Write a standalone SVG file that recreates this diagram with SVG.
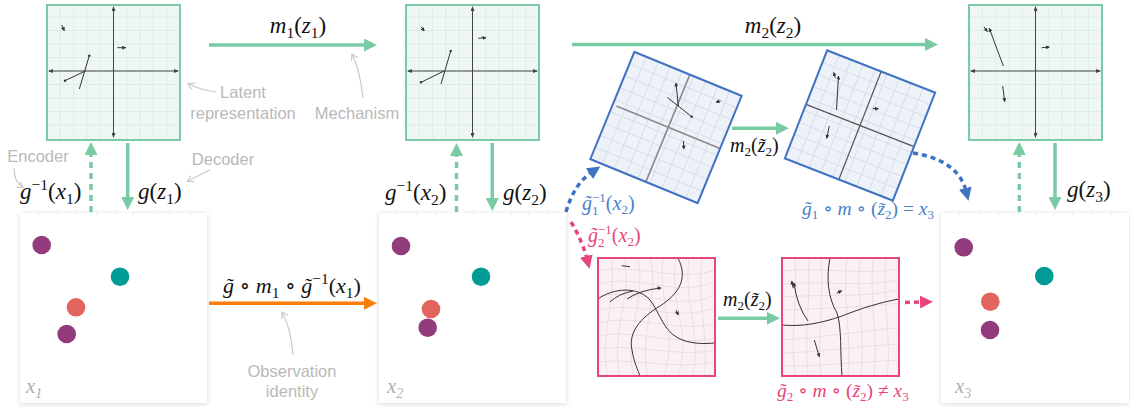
<svg xmlns="http://www.w3.org/2000/svg" xmlns:xlink="http://www.w3.org/1999/xlink" width="1130" height="407" viewBox="0 0 1130 407">
<style>
.m{font-family:"Liberation Serif","DejaVu Serif",serif;font-size:23px;fill:#111}
.i{font-style:italic}
.s{font-size:15.5px}
.ann{font-family:"Liberation Sans","DejaVu Sans",sans-serif;font-size:16.5px;fill:#b9b9b9}
.xl{font-family:"Liberation Serif","DejaVu Serif",serif;font-size:21px;fill:#b0b0b0;font-style:italic}
.gA{stroke:#7acba5;stroke-width:3.5;fill:none}
.gD{stroke:#7acba5;stroke-width:3.5;fill:none;stroke-dasharray:6,5}
.bD{stroke:#3f72c2;stroke-width:3.5;fill:none;stroke-dasharray:5,4}
.pD{stroke:#e8457a;stroke-width:3.5;fill:none;stroke-dasharray:5,4}
.axis{stroke:#444;stroke-width:1;marker-start:url(#ax);marker-end:url(#ax)}
.vec{stroke:#333;stroke-width:1;fill:none}
.va{marker-end:url(#va)}
.gl{stroke:#d8ebe2;stroke-width:0.8;fill:none}
.bl{stroke:#d3dae9;stroke-width:0.8;fill:none}
.pl{stroke:#ead8e0;stroke-width:0.8;fill:none}
.dk{stroke:#333;stroke-width:1;fill:none}
.ga{stroke:#c9c9c9;stroke-width:1.2;fill:none;marker-end:url(#gra)}
.card{fill:#fff;filter:url(#sh)}
.tick{stroke:#e2e2e2;stroke-width:1}
</style>
<defs>
<filter id="sh" x="-10%" y="-10%" width="120%" height="120%">
<feDropShadow dx="0" dy="1" stdDeviation="2.5" flood-color="#000" flood-opacity="0.16"/>
</filter>
<marker id="ahG" markerUnits="userSpaceOnUse" markerWidth="14" markerHeight="13" refX="3" refY="6.5" orient="auto" viewBox="0 0 14 13"><path d="M0,0 L13,6.5 L0,13 z" fill="#7acba5"/></marker>
<marker id="ahO" markerUnits="userSpaceOnUse" markerWidth="14" markerHeight="13" refX="3" refY="6.5" orient="auto" viewBox="0 0 14 13"><path d="M0,0 L13,6.5 L0,13 z" fill="#fb7d0a"/></marker>
<marker id="ahB" markerUnits="userSpaceOnUse" markerWidth="14" markerHeight="13" refX="3" refY="6.5" orient="auto" viewBox="0 0 14 13"><path d="M0,0 L13,6.5 L0,13 z" fill="#3f72c2"/></marker>
<marker id="ahP" markerUnits="userSpaceOnUse" markerWidth="14" markerHeight="13" refX="3" refY="6.5" orient="auto" viewBox="0 0 14 13"><path d="M0,0 L13,6.5 L0,13 z" fill="#e8457a"/></marker>
<marker id="ax" markerUnits="userSpaceOnUse" markerWidth="5" markerHeight="4" refX="4" refY="2" orient="auto-start-reverse" viewBox="0 0 5 4"><path d="M0,0 L5,2 L0,4 z" fill="#444"/></marker>
<marker id="va" markerUnits="userSpaceOnUse" markerWidth="4" markerHeight="4" refX="3.5" refY="2" orient="auto" viewBox="0 0 4 4"><path d="M0,0 L4,2 L0,4 z" fill="#333"/></marker>
<marker id="gra" markerUnits="userSpaceOnUse" markerWidth="8" markerHeight="8" refX="6" refY="3.5" orient="auto" viewBox="0 0 8 7"><path d="M0,0 L6,3.5 L0,7" fill="none" stroke="#c9c9c9" stroke-width="1.2"/></marker>
<g id="ggrid">
<rect width="133" height="135" fill="#eef7f3"/>
<path class="gl" d="M13.3,0V135M26.6,0V135M39.9,0V135M53.2,0V135M66.5,0V135M79.8,0V135M93.1,0V135M106.4,0V135M119.7,0V135M0,12H133M0,25.5H133M0,39H133M0,52.5H133M0,66H133M0,79.5H133M0,93H133M0,106.5H133M0,120H133"/>
<rect width="133" height="135" fill="none" stroke="#7acba5" stroke-width="2"/>
<line class="axis" x1="2" y1="66" x2="131" y2="66"/>
<line class="axis" x1="66.5" y1="2" x2="66.5" y2="132"/>
</g>
<g id="bgrid">
<rect x="-58" y="-58" width="116" height="116" fill="#edf1f8"/>
<path class="bl" d="M-45.1,-58V58M-32.2,-58V58M-19.3,-58V58M-6.4,-58V58M6.4,-58V58M19.3,-58V58M32.2,-58V58M45.1,-58V58M-58,-45.1H58M-58,-32.2H58M-58,-19.3H58M-58,-6.4H58M-58,6.4H58M-58,19.3H58M-58,32.2H58M-58,45.1H58"/>
</g>
</defs>

<rect width="1130" height="407" fill="#fff"/>

<!-- bottom observation panels -->
<g id="obs1">
<rect class="card" x="20" y="213" width="187" height="190"/>
<path class="tick" d="M38,213v2M58,213v2M77,213v2M97,213v2M115,213v2M133,213v2M152,213v2M170,213v2M190,213v2"/>
<circle cx="41.7" cy="245" r="9.3" fill="#923b7d"/>
<circle cx="120" cy="276.7" r="9.3" fill="#009b95"/>
<circle cx="76" cy="307.3" r="9.3" fill="#e2645f"/>
<circle cx="66.7" cy="334" r="9.3" fill="#923b7d"/>
<text class="xl" x="26" y="393">x<tspan font-size="14" dy="5">1</tspan></text>
</g>
<g id="obs2">
<rect class="card" x="379" y="213" width="187" height="190"/>
<path class="tick" d="M397,213v2M417,213v2M436,213v2M456,213v2M474,213v2M492,213v2M511,213v2M529,213v2M549,213v2"/>
<circle cx="401" cy="246" r="9.3" fill="#923b7d"/>
<circle cx="481" cy="276.7" r="9.3" fill="#009b95"/>
<circle cx="431" cy="309" r="9.3" fill="#e2645f"/>
<circle cx="427.7" cy="327.7" r="9.3" fill="#923b7d"/>
<text class="xl" x="387" y="393">x<tspan font-size="14" dy="5">2</tspan></text>
</g>
<g id="obs3">
<rect class="card" x="941" y="213" width="188" height="190"/>
<path class="tick" d="M959,213v2M979,213v2M998,213v2M1018,213v2M1036,213v2M1054,213v2M1073,213v2M1091,213v2M1111,213v2"/>
<circle cx="963.7" cy="247.3" r="9.3" fill="#923b7d"/>
<circle cx="1044.3" cy="276" r="9.3" fill="#009b95"/>
<circle cx="990.3" cy="301.7" r="9.3" fill="#e2645f"/>
<circle cx="990" cy="330" r="9.3" fill="#923b7d"/>
<text class="xl" x="955" y="393">x<tspan font-size="14" dy="5">3</tspan></text>
</g>

<!-- latent panels -->
<g id="latent1" transform="translate(47,5)">
<use href="#ggrid"/>
<line class="vec va" x1="14.7" y1="20" x2="17.3" y2="25.7"/>
<line class="vec va" x1="70.3" y1="42.7" x2="78.7" y2="42.7"/>
<line class="vec" x1="18" y1="75.7" x2="39" y2="65.7"/><circle cx="18" cy="75.7" r="1.2" fill="#333"/>
<line class="vec" x1="32.3" y1="84" x2="42.3" y2="50.7"/><circle cx="42.3" cy="50.7" r="1.2" fill="#333"/>
</g>
<g id="latent2" transform="translate(406,5)">
<use href="#ggrid"/>
<line class="vec va" x1="15" y1="21.7" x2="18.3" y2="26"/>
<line class="vec va" x1="72.3" y1="33.3" x2="80" y2="32.7"/>
<line class="vec" x1="15" y1="77.3" x2="38" y2="66"/><circle cx="15" cy="77.3" r="1.2" fill="#333"/>
<line class="vec" x1="35" y1="79" x2="44.7" y2="46"/><circle cx="44.7" cy="46" r="1.2" fill="#333"/>
</g>
<g id="latent3" transform="translate(969,5)">
<use href="#ggrid"/>
<line class="vec va" x1="34.3" y1="61" x2="20.3" y2="23.3"/>
<line class="vec va" x1="15" y1="21.7" x2="18.3" y2="26.7"/>
<line class="vec va" x1="72.7" y1="42.7" x2="80.3" y2="42"/>
<line class="vec va" x1="33.7" y1="81" x2="35.7" y2="96.7"/>
</g>

<!-- blue rotated panels -->
<g id="blue1">
<g transform="translate(666,127.5) rotate(22.3)">
<use href="#bgrid"/>
<line x1="-54" y1="-1" x2="58" y2="-1" stroke="#8a8a8a" stroke-width="1.6"/>
<line x1="2" y1="-58" x2="2" y2="58" stroke="#8a8a8a" stroke-width="1.6"/>
<rect x="-58" y="-58" width="116" height="116" fill="none" stroke="#3f72c2" stroke-width="2"/>
</g>
<line class="vec va" x1="678.3" y1="106" x2="676" y2="83"/>
<line class="vec" x1="667.5" y1="97.5" x2="691.7" y2="116.7"/><circle cx="691.7" cy="116.7" r="1.2" fill="#333"/>
<line class="vec va" x1="720.7" y1="100.7" x2="716" y2="102.3"/>
<line class="vec va" x1="683.5" y1="141" x2="683.8" y2="149"/>
</g>
<g id="blue2">
<g transform="translate(860,125.5) rotate(21.4)">
<use href="#bgrid"/>
<line x1="-58" y1="0" x2="58" y2="0" stroke="#555" stroke-width="1.2"/>
<line x1="0" y1="-58" x2="0" y2="58" stroke="#555" stroke-width="1.2"/>
<rect x="-58" y="-58" width="116" height="116" fill="none" stroke="#3f72c2" stroke-width="2"/>
</g>
<line class="vec va" x1="836.5" y1="110" x2="838.5" y2="76"/>
<line class="vec va" x1="835.3" y1="78" x2="833.8" y2="72.5"/>
<line class="vec va" x1="872.7" y1="108.3" x2="878.3" y2="109"/>
<line class="vec va" x1="829.3" y1="126" x2="826.7" y2="138.3"/>
</g>

<!-- pink panels -->
<g id="pink1" transform="translate(598,258)">
<rect width="117" height="118" fill="#fbf0f4"/>
<path class="pl" d="M13,0 C20,40 0,80 10,118M26,0 C35,35 12,80 22,118M39,0 C50,30 25,85 36,118M52,0 C62,35 40,80 50,118M65,0 C60,40 80,80 66,118M78,0 C70,45 95,75 80,118M91,0 C85,45 105,80 94,118M104,0 C98,40 112,85 106,118"/>
<path class="pl" d="M0,13 C40,5 80,25 117,12M0,26 C40,15 75,40 117,24M0,39 C35,28 80,55 117,37M0,52 C40,42 75,65 117,50M0,65 C35,55 80,75 117,66M0,78 C40,70 80,90 117,80M0,91 C40,85 80,100 117,92M0,104 C40,100 75,112 117,104"/>
<path class="dk" d="M80,0 C90,20 82,35 62,48 C42,60 30,75 34,92 C36,105 40,112 42,118"/>
<path class="dk" d="M0,41 C15,30 40,28 52,42 C62,55 65,72 80,80 C92,86 105,86 117,85"/>
<path class="vec" d="M12,44 Q20,36 35,33"/>
<path class="vec va" d="M29,41 Q42,32 63,30"/>
<line class="vec" x1="23.7" y1="7.7" x2="32" y2="8.7"/>
<line class="vec va" x1="78" y1="52" x2="80.3" y2="57"/>
<rect width="117" height="118" fill="none" stroke="#e8457a" stroke-width="2"/>
</g>
<g id="pink2" transform="translate(782,258)">
<rect width="117" height="118" fill="#fbf0f4"/>
<path class="pl" d="M13,0 C16,40 8,80 13,118M26,0 C29,40 22,80 26,118M39,0 C42,40 35,80 39,118M65,0 C60,40 70,80 66,118M78,0 C74,40 84,80 79,118M91,0 C87,45 97,80 92,118M104,0 C100,40 110,85 105,118"/>
<path class="pl" d="M0,13 C40,8 80,18 117,11M0,26 C40,22 80,30 117,22M0,39 C40,36 80,40 117,32M0,52 C40,50 80,50 117,45M0,82 C40,80 80,72 117,70M0,95 C40,94 80,88 117,86M0,108 C40,108 80,104 117,102"/>
<path class="dk" d="M48,0 C44,20 46,40 55,55 C60,70 58,95 60,118"/>
<path class="dk" stroke-width="1.4" d="M0,67 C20,69 40,65 60,58 C80,50 100,44 117,41"/>
<path class="vec va" d="M26,63 Q15,48 12,25"/>
<line class="vec va" x1="11.3" y1="30.3" x2="9.7" y2="23"/>
<line class="vec va" x1="54.7" y1="35.3" x2="59.7" y2="32.7"/>
<line class="vec va" x1="32.3" y1="82" x2="37.3" y2="98.7"/>
<rect width="117" height="118" fill="none" stroke="#e8457a" stroke-width="2"/>
</g>

<!-- connectors -->
<g id="connectors">
<line class="gA" x1="209" y1="45" x2="367" y2="45" marker-end="url(#ahG)"/>
<line class="gA" x1="572" y1="44.5" x2="928" y2="44.5" marker-end="url(#ahG)"/>
<line class="gD" x1="91" y1="212" x2="91" y2="152" marker-end="url(#ahG)"/>
<line class="gA" x1="127.7" y1="143" x2="127.7" y2="200" marker-end="url(#ahG)"/>
<line class="gD" x1="456.5" y1="212" x2="456.5" y2="153" marker-end="url(#ahG)"/>
<line class="gA" x1="492.3" y1="143" x2="492.3" y2="201" marker-end="url(#ahG)"/>
<line class="gD" x1="1019.3" y1="212" x2="1019.3" y2="152" marker-end="url(#ahG)"/>
<line class="gA" x1="1055" y1="143" x2="1055" y2="200" marker-end="url(#ahG)"/>
<line class="gA" x1="732" y1="128.3" x2="779" y2="128.3" marker-end="url(#ahG)"/>
<line class="gA" x1="718" y1="318.3" x2="770" y2="318.3" marker-end="url(#ahG)"/>
<line x1="209" y1="303.3" x2="367" y2="303.3" stroke="#fb7d0a" stroke-width="3.5" marker-end="url(#ahO)"/>
<path class="bD" d="M566,212 Q574,184 592,172" marker-end="url(#ahB)"/>
<path class="pD" d="M571,222 Q582,240 587,259" marker-end="url(#ahP)"/>
<path class="bD" d="M913,153 Q958,160 966,191" marker-end="url(#ahB)"/>
<line class="pD" x1="905" y1="302.5" x2="923" y2="302" marker-end="url(#ahP)"/>
<path class="ga" d="M216,92 Q200,90 188,83.5"/>
<path class="ga" d="M363,98 Q360,70 352,54"/>
<path class="ga" d="M14,168 Q14,182 23,187.5"/>
<path class="ga" d="M210,170 Q197,176 187.5,181.5"/>
<path class="ga" d="M293,355 Q291,328 282,312"/>
</g>

<!-- labels -->
<g id="labels">
<text class="m" x="298" y="33" text-anchor="middle"><tspan class="i">m</tspan><tspan class="s" dy="5">1</tspan><tspan dy="-5">(</tspan><tspan class="i">z</tspan><tspan class="s" dy="5">1</tspan><tspan dy="-5">)</tspan></text>
<text class="m" x="773" y="33" text-anchor="middle"><tspan class="i">m</tspan><tspan class="s" dy="5">2</tspan><tspan dy="-5">(</tspan><tspan class="i">z</tspan><tspan class="s" dy="5">2</tspan><tspan dy="-5">)</tspan></text>
<text class="m" x="20" y="199"><tspan class="i">g</tspan><tspan class="s" dy="-9">−1</tspan><tspan dy="9">(</tspan><tspan class="i">x</tspan><tspan class="s" dy="5">1</tspan><tspan dy="-5">)</tspan></text>
<text class="m" x="138" y="199"><tspan class="i">g</tspan>(<tspan class="i">z</tspan><tspan class="s" dy="5">1</tspan><tspan dy="-5">)</tspan></text>
<text class="m" x="385" y="200"><tspan class="i">g</tspan><tspan class="s" dy="-9">−1</tspan><tspan dy="9">(</tspan><tspan class="i">x</tspan><tspan class="s" dy="5">2</tspan><tspan dy="-5">)</tspan></text>
<text class="m" x="503" y="200"><tspan class="i">g</tspan>(<tspan class="i">z</tspan><tspan class="s" dy="5">2</tspan><tspan dy="-5">)</tspan></text>
<text class="m" x="1067" y="197"><tspan class="i">g</tspan>(<tspan class="i">z</tspan><tspan class="s" dy="5">3</tspan><tspan dy="-5">)</tspan></text>
<text class="m" x="730" y="152" style="font-size:20px"><tspan class="i">m</tspan><tspan style="font-size:13px" dy="4">2</tspan><tspan dy="-4">(</tspan><tspan class="i">z&#x303;</tspan><tspan style="font-size:13px" dy="4">2</tspan><tspan dy="-4">)</tspan></text>
<text class="m" x="723" y="306" style="font-size:20px"><tspan class="i">m</tspan><tspan style="font-size:13px" dy="4">2</tspan><tspan dy="-4">(</tspan><tspan class="i">z&#x303;</tspan><tspan style="font-size:13px" dy="4">2</tspan><tspan dy="-4">)</tspan></text>
<text class="m" x="223" y="293" style="font-size:22px"><tspan class="i">g&#x303;</tspan><tspan> ∘ </tspan><tspan class="i">m</tspan><tspan class="s" dy="5">1</tspan><tspan dy="-5"> ∘ </tspan><tspan class="i">g&#x303;</tspan><tspan class="s" dy="-9">−1</tspan><tspan dy="9">(</tspan><tspan class="i">x</tspan><tspan class="s" dy="5">1</tspan><tspan dy="-5">)</tspan></text>
<text class="m" x="582" y="210" style="font-size:20px;fill:#4a7fc7"><tspan class="i">g&#x303;</tspan><tspan style="font-size:13px" dy="5">1</tspan><tspan style="font-size:13px" dx="-6.5" dy="-13">−1</tspan><tspan dy="8">(</tspan><tspan class="i">x</tspan><tspan style="font-size:13px" dy="4">2</tspan><tspan dy="-4">)</tspan></text>
<text class="m" x="588" y="242" style="font-size:20px;fill:#e8457a"><tspan class="i">g&#x303;</tspan><tspan style="font-size:13px" dy="5">2</tspan><tspan style="font-size:13px" dx="-6.5" dy="-13">−1</tspan><tspan dy="8">(</tspan><tspan class="i">x</tspan><tspan style="font-size:13px" dy="4">2</tspan><tspan dy="-4">)</tspan></text>
<text class="m" x="802" y="215" style="font-size:19.5px;fill:#4a7fc7"><tspan class="i">g&#x303;</tspan><tspan style="font-size:13px" dy="4">1</tspan><tspan dy="-4"> ∘ </tspan><tspan class="i">m</tspan><tspan> ∘ (</tspan><tspan class="i">z&#x303;</tspan><tspan style="font-size:13px" dy="4">2</tspan><tspan dy="-4">) = </tspan><tspan class="i">x</tspan><tspan style="font-size:13px" dy="4">3</tspan></text>
<text class="m" x="777" y="397" style="font-size:19.5px;fill:#e8457a"><tspan class="i">g&#x303;</tspan><tspan style="font-size:13px" dy="4">2</tspan><tspan dy="-4"> ∘ </tspan><tspan class="i">m</tspan><tspan> ∘ (</tspan><tspan class="i">z&#x303;</tspan><tspan style="font-size:13px" dy="4">2</tspan><tspan dy="-4">) ≠ </tspan><tspan class="i">x</tspan><tspan style="font-size:13px" dy="4">3</tspan></text>
<text class="ann" x="243" y="97.5" text-anchor="middle">Latent</text>
<text class="ann" x="243" y="118.5" text-anchor="middle">representation</text>
<text class="ann" x="357" y="118.5" text-anchor="middle">Mechanism</text>
<text class="ann" x="38" y="162" text-anchor="middle">Encoder</text>
<text class="ann" x="223" y="165" text-anchor="middle">Decoder</text>
<text class="ann" x="292" y="376.5" text-anchor="middle">Observation</text>
<text class="ann" x="292" y="396.5" text-anchor="middle">identity</text>
</g>
</svg>
